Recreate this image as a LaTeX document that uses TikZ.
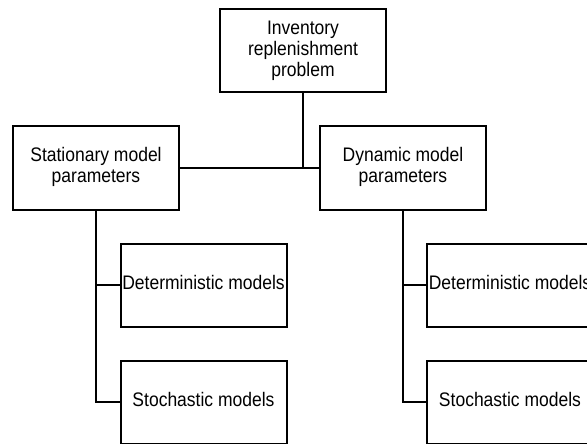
\documentclass[tikz,border=0pt]{standalone}
\usepackage{fontspec}
\setmainfont{Liberation Sans}
\newcommand\boxtext[1]{\scalebox{1}[1.12]{\begin{tabular}{@{}c@{}}#1\end{tabular}}}
\begin{document}
\begin{tikzpicture}[x=1pt,y=-1pt,line width=2pt,
 box/.style={draw,minimum width=166pt,minimum height=83pt,inner sep=1pt,
  align=center,font=\fontsize{17.5}{18.8}\selectfont}]
 \clip (0,0) rectangle (587,444);
 \node[box] (inv) at (303,51) {\boxtext{Inventory\\replenishment\\problem}};
 \node[box] (stat) at (96,168) {\boxtext{Stationary model\\parameters}};
 \node[box] (dyn) at (403,168) {\boxtext{Dynamic model\\parameters}};
 \node[box] (sdet) at (203.5,285) {\boxtext{Deterministic models}};
 \node[box] (ssto) at (203.5,402) {\boxtext{Stochastic models}};
 \node[box] (ddet) at (510,285) {\boxtext{Deterministic models}};
 \node[box] (dsto) at (510,402) {\boxtext{Stochastic models}};
 \draw (stat.east) -- (dyn.west); \draw (inv.south) -- (inv.south |- stat.east);
 \draw (stat.south) |- (ssto.west); \draw (stat.south |- sdet.west) -- (sdet.west);
 \draw (dyn.south) |- (dsto.west); \draw (dyn.south |- ddet.west) -- (ddet.west);
\end{tikzpicture}
\end{document}
